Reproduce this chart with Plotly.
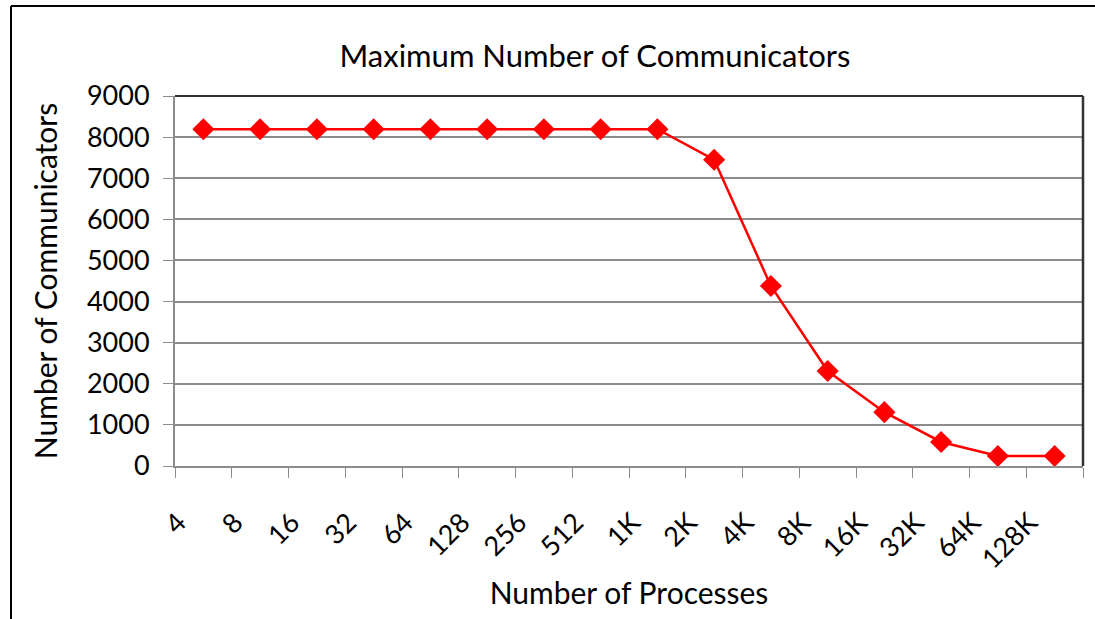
import plotly.graph_objects as go

# Process counts (category labels) and the maximum number of communicators reached
processes = ["4", "8", "16", "32", "64", "128", "256", "512", "1K",
             "2K", "4K", "8K", "16K", "32K", "64K", "128K"]
max_communicators = [8192, 8192, 8192, 8192, 8192, 8192, 8192, 8192, 8192,
                     7450, 4380, 2310, 1310, 585, 245, 245]

y_ticks = [0, 1000, 2000, 3000, 4000, 5000, 6000, 7000, 8000, 9000]

FONT = "Lato, Carlito, Calibri, sans-serif"
GRID = "#8c8c8c"

fig = go.Figure(
    go.Scatter(
        x=processes,
        y=max_communicators,
        mode="lines+markers",
        line=dict(color="#ff0000", width=2.5),
        marker=dict(symbol="diamond", size=17, color="#ff0000"),
        showlegend=False,
    )
)

fig.update_layout(
    width=1095,
    height=619,
    margin=dict(l=175, r=12, t=96, b=153),
    paper_bgcolor="white",
    plot_bgcolor="white",
    font=dict(family=FONT, size=27, color="black"),
    title=dict(
        text="Maximum Number of Communicators",
        x=(595 - 175) / 908, xref="paper", xanchor="center",
        y=1 - 56 / 619, yref="container", yanchor="middle",
        font=dict(size=31),
    ),
)

fig.update_xaxes(
    type="category",
    range=[-0.5, len(processes) - 0.5],
    tickangle=-45,
    tickson="boundaries",
    ticks="outside",
    ticklen=10,
    tickcolor=GRID,
    showline=True,
    linecolor=GRID,
    linewidth=2,
    showgrid=False,
    ticklabelstandoff=28,
    ticklabelshift=-25,
    title=dict(text="Number of Processes", standoff=9, font=dict(size=30)),
)

fig.update_yaxes(
    range=[0, 9000],
    tickvals=y_ticks,
    ticks="outside",
    ticklen=10,
    tickcolor=GRID,
    showline=True,
    linecolor=GRID,
    linewidth=2,
    showgrid=True,
    gridcolor=GRID,
    gridwidth=1.5,
    zeroline=False,
    ticklabelstandoff=8,
    title=dict(text="Number of Communicators", standoff=20, font=dict(size=30)),
)

# Dark frame on top and right of the plot area
fig.add_shape(type="line", xref="paper", yref="paper", x0=0, x1=1, y0=1, y1=1,
              line=dict(color="#333333", width=2), layer="above")
fig.add_shape(type="line", xref="paper", yref="paper", x0=1, x1=1, y0=0, y1=1,
              line=dict(color="#333333", width=2.5), layer="above")

# Outer chart border (left and top edges)
px_x = lambda p: (p - 175) / 908
px_y = lambda p: (466 - p) / 370
fig.add_shape(type="line", xref="paper", yref="paper",
              x0=px_x(11), x1=px_x(11), y0=px_y(6), y1=px_y(625),
              line=dict(color="black", width=2))
fig.add_shape(type="line", xref="paper", yref="paper",
              x0=px_x(11), x1=px_x(1100), y0=px_y(6), y1=px_y(6),
              line=dict(color="black", width=2))

fig.write_html("out.html")
